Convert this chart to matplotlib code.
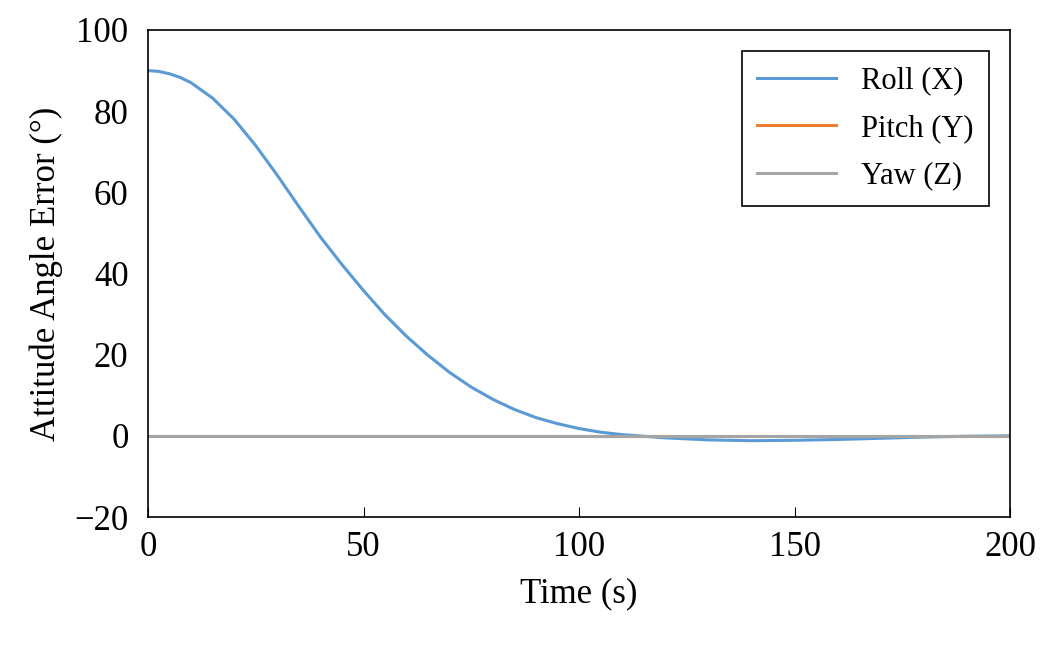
import numpy as np
import matplotlib
matplotlib.use("Agg")
import matplotlib.pyplot as plt

plt.rcParams['font.family'] = ['Liberation Serif', 'DejaVu Serif']
plt.rcParams['axes.unicode_minus'] = False

time_s = [0, 2.5, 5, 7.5, 10, 15, 20, 25, 30, 35, 40, 45, 50, 55, 60, 65, 70, 75, 80, 85, 90,
          95, 100, 105, 110, 115, 120, 130, 140, 150, 160, 170, 180, 190, 200]
roll = [90, 89.8, 89.2, 88.3, 87, 83.2, 78, 71.5, 64.2, 56.5, 49, 42.2, 35.8, 29.8, 24.5,
        19.8, 15.6, 12.0, 9.0, 6.5, 4.5, 3.0, 1.8, 0.9, 0.3, -0.1, -0.5, -1.0, -1.2, -1.1,
        -0.9, -0.6, -0.3, -0.1, 0]
pitch = [0.0] * len(time_s)
yaw = [0.0] * len(time_s)

fig = plt.figure(figsize=(10.56, 6.54), dpi=100)
ax = fig.add_axes([148 / 1056, 1 - 517 / 654, 862 / 1056, 487 / 654])

ax.plot(time_s, roll, color='#5b9bd5', lw=2.2, label='Roll (X)')
ax.plot(time_s, pitch, color='#ed7d31', lw=2.2, label='Pitch (Y)')
ax.plot(time_s, yaw, color='#a5a5a5', lw=2.2, label='Yaw (Z)')

ax.set_xlim(0, 200)
ax.set_ylim(-20, 100)
ax.set_xticks([0, 50, 100, 150, 200])
ax.set_yticks([-20, 0, 20, 40, 60, 80, 100])
ax.set_yticklabels(['\u221220', '0', '20', '40', '60', '80', '100'])
ax.tick_params(direction='in', labelsize=25, length=7, pad=10)
ax.tick_params(axis='y', length=0, pad=14)
for s in ax.spines.values():
    s.set_linewidth(1.2)

ax.set_xlabel('Time (s)', fontsize=25, labelpad=10)
ax.set_ylabel('Attitude Angle Error (°)', fontsize=25, labelpad=8)

leg = ax.legend(loc='upper right', fontsize=22, fancybox=False, edgecolor='black',
                framealpha=1, handlelength=2.6, borderpad=0.5, labelspacing=0.6,
                borderaxespad=0.7)
leg.get_frame().set_linewidth(1.2)

fig.savefig('out.png', dpi=100)
